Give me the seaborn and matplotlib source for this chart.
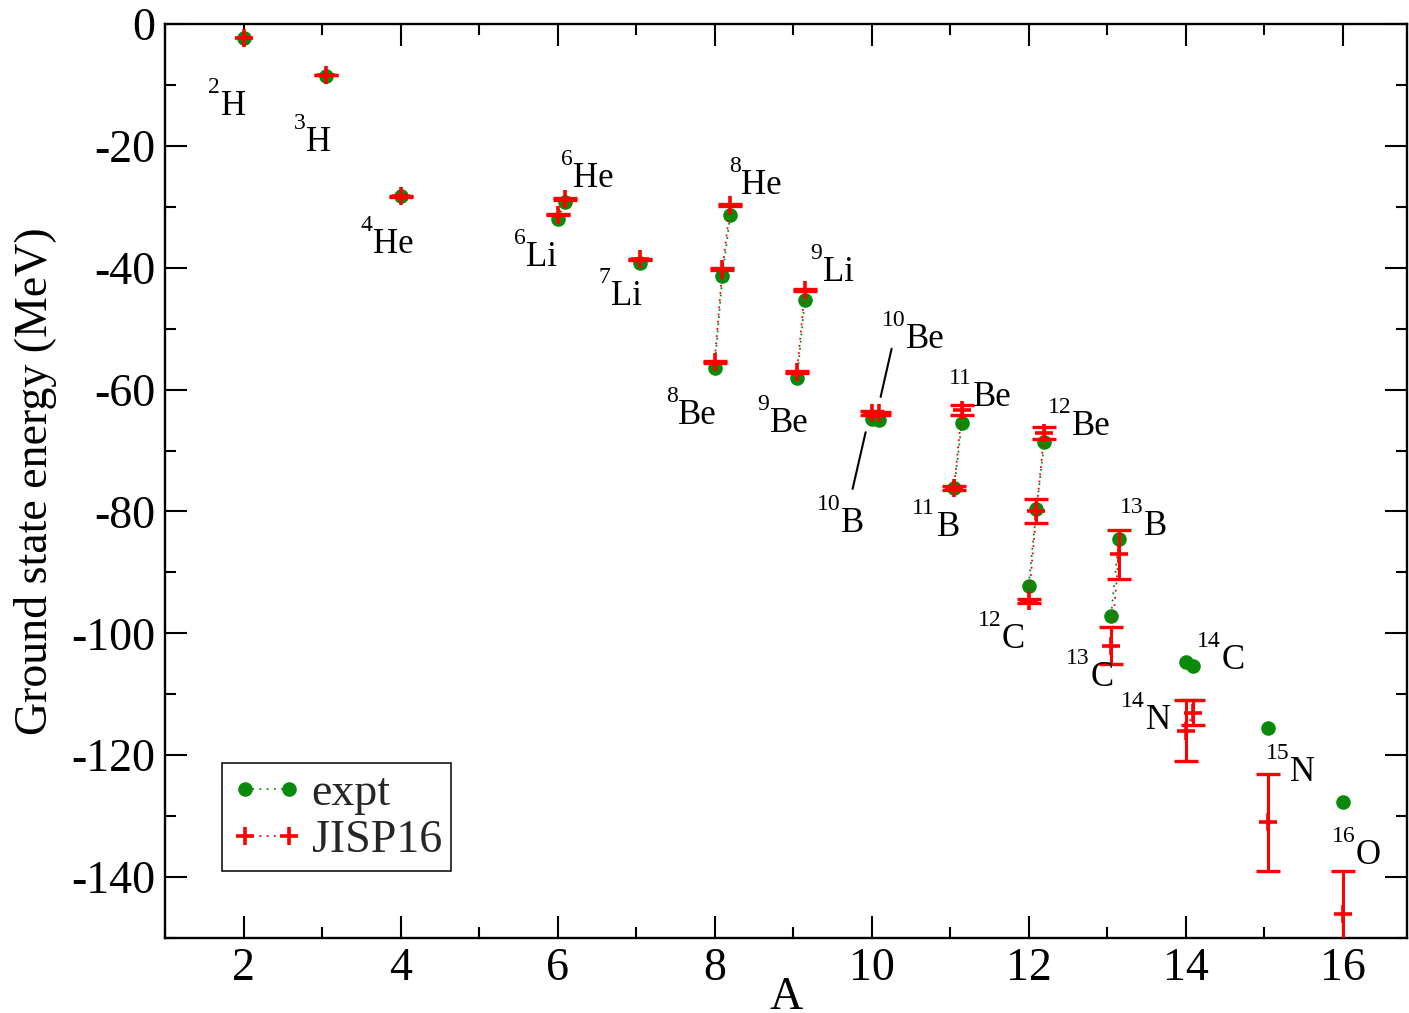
import numpy as np
import pandas as pd
import matplotlib
matplotlib.use("Agg")
import matplotlib.pyplot as plt
import seaborn as sns
from matplotlib.lines import Line2D
from matplotlib.ticker import MultipleLocator

# nuclei, ordered by isobar chain (x slightly shifted inside a chain)
nuclei = ["2H", "3H", "4He", "6Li", "6He", "7Li", "8Be", "8Li", "8He",
          "9Be", "9Li", "10B", "10Be", "11B", "11Be", "12C", "12B", "12Be",
          "13C", "13B", "14N", "14C", "15N", "16O"]
a_pos = [2.0, 3.05, 4.0, 6.0, 6.1, 7.05, 8.0, 8.1, 8.2,
         9.05, 9.15, 10.0, 10.1, 11.05, 11.15, 12.0, 12.1, 12.2,
         13.05, 13.15, 14.0, 14.1, 15.05, 16.0]
chain = [0, 1, 2, 3, 3, 4, 5, 5, 5, 6, 6, 7, 7, 8, 8, 9, 9, 9,
         10, 10, 11, 11, 12, 13]
expt = [-2.22, -8.48, -28.30, -31.99, -29.27, -39.24, -56.50, -41.28, -31.40,
        -58.17, -45.34, -64.75, -64.98, -76.21, -65.48, -92.16, -79.58, -68.65,
        -97.11, -84.45, -104.66, -105.28, -115.49, -127.62]
jisp16 = [-2.22, -8.37, -28.30, -31.3, -28.7, -38.6, -55.5, -40.2, -29.7,
          -57.1, -43.7, -63.8, -63.9, -76.1, -63.4, -94.7, -79.9, -67.1,
          -102.0, -87.0, -116.0, -113.0, -131.0, -146.0]
jisp16_err = [0, 0.05, 0.05, 0.1, 0.1, 0.1, 0.15, 0.15, 0.15,
              0.15, 0.15, 0.3, 0.3, 0.3, 0.8, 0.3, 2.0, 1.0,
              3.0, 4.0, 5.0, 2.0, 8.0, 7.0]

# where each nuclide label sits (left edge, baseline)
label_pos = {
    "2H": (1.55, -15.0), "3H": (2.64, -20.9), "4He": (3.49, -37.6),
    "6He": (6.04, -26.8), "6Li": (5.44, -39.7), "7Li": (6.52, -46.1),
    "8He": (8.18, -27.9), "9Li": (9.22, -42.2), "8Be": (7.38, -65.7),
    "9Be": (8.54, -67.0), "10Be": (10.13, -53.2), "10B": (9.30, -83.4),
    "11Be": (10.98, -62.7), "11B": (10.52, -84.1), "12Be": (12.24, -67.5),
    "12C": (11.35, -102.4), "13B": (13.16, -83.9), "13C": (12.48, -108.7),
    "14C": (14.15, -105.9), "14N": (13.18, -115.7), "15N": (15.02, -124.3),
    "16O": (15.86, -137.9),
}

GREEN = "#0a8a0a"
RED = "#ff0000"

sns.set_theme(style="ticks")
plt.rcParams["font.family"] = ["Liberation Serif", "DejaVu Serif"]
plt.rcParams["axes.unicode_minus"] = False

df = pd.DataFrame({"A": a_pos, "expt": expt, "jisp": jisp16,
                   "err": jisp16_err, "chain": chain, "name": nuclei})

fig = plt.figure(figsize=(14.09, 10.13), dpi=100)
ax = fig.add_axes([0.1171, 0.0740, 0.8815, 0.9023])

sns.lineplot(data=df, x="A", y="expt", units="chain", estimator=None, ax=ax,
             color=GREEN, lw=1.3, linestyle=(0, (1, 3)), marker="o",
             markersize=10.5, markeredgecolor=GREEN, markeredgewidth=0,
             legend=False, zorder=2)

werr = df[df["err"] > 0]
ax.errorbar(werr["A"], werr["jisp"], yerr=werr["err"], fmt="none",
            ecolor=RED, elinewidth=2.2, capsize=8.3, capthick=2.4, zorder=3)

sns.lineplot(data=df, x="A", y="jisp", units="chain", estimator=None, ax=ax,
             color=RED, lw=1.3, linestyle=(2, (1, 3)), marker="+",
             markersize=12.5, markeredgecolor=RED, markeredgewidth=2.6,
             legend=False, zorder=4)

# nuclide labels: small mass number raised to the cap height of the symbol
LBL = 25
SUP = 17
for name in nuclei:
    if name not in label_pos:
        continue
    num = "".join(c for c in name if c.isdigit())
    sym = name[len(num):]
    x, y = label_pos[name]
    ax.annotate(num, xy=(x, y), xytext=(0, 0.64 * LBL),
                textcoords="offset points", fontsize=SUP,
                ha="left", va="baseline", color="black")
    ax.annotate(sym, xy=(x, y), xytext=(len(num) * 0.5 * SUP + 0.5, 0),
                textcoords="offset points", fontsize=LBL,
                ha="left", va="baseline", color="black")

# leader lines for the overlapping A=10 points
ax.annotate("", xy=(10.115, -61.2), xytext=(10.255, -53.3),
            arrowprops=dict(arrowstyle="-", lw=1.5, color="black",
                            shrinkA=0, shrinkB=0))
ax.annotate("", xy=(9.924, -67.0), xytext=(9.758, -76.3),
            arrowprops=dict(arrowstyle="-", lw=1.5, color="black",
                            shrinkA=0, shrinkB=0))

ax.set_xlim(1, 16.82)
ax.set_ylim(-150, 0)
ax.xaxis.set_major_locator(MultipleLocator(2))
ax.xaxis.set_minor_locator(MultipleLocator(1))
ax.yaxis.set_major_locator(MultipleLocator(20))
ax.yaxis.set_minor_locator(MultipleLocator(10))
ax.tick_params(which="both", direction="in", top=True, right=True,
               width=1.5, color="black", labelsize=33, labelcolor="black")
ax.tick_params(which="major", length=16)
ax.tick_params(which="minor", length=8)
ax.tick_params(axis="x", which="major", pad=7)
ax.tick_params(axis="y", which="major", pad=7)
for sp in ax.spines.values():
    sp.set_linewidth(1.7)
    sp.set_color("black")
    sp.set_visible(True)

ax.set_xlabel("A", fontsize=33, labelpad=-10, color="black")
ax.set_ylabel("Ground state energy (MeV)", fontsize=33, labelpad=10,
              color="black")

handles = [
    Line2D([], [], color=GREEN, lw=1.3, linestyle=(0, (1, 3)), marker="o",
           markersize=10.5, markeredgewidth=0),
    Line2D([], [], color=RED, lw=1.3, linestyle=(0, (1, 3)), marker="+",
           markersize=12.5, markeredgewidth=2.6),
]
leg = ax.legend(handles, ["expt", "JISP16"], loc="lower left",
                bbox_to_anchor=(0.046, 0.073), borderaxespad=0, fontsize=33,
                numpoints=2, handlelength=1.55, handletextpad=0.2,
                borderpad=0.2, labelspacing=0.1, fancybox=False,
                framealpha=1, edgecolor="black")
leg.get_frame().set_linewidth(1.1)

fig.savefig("out.png", dpi=100)
